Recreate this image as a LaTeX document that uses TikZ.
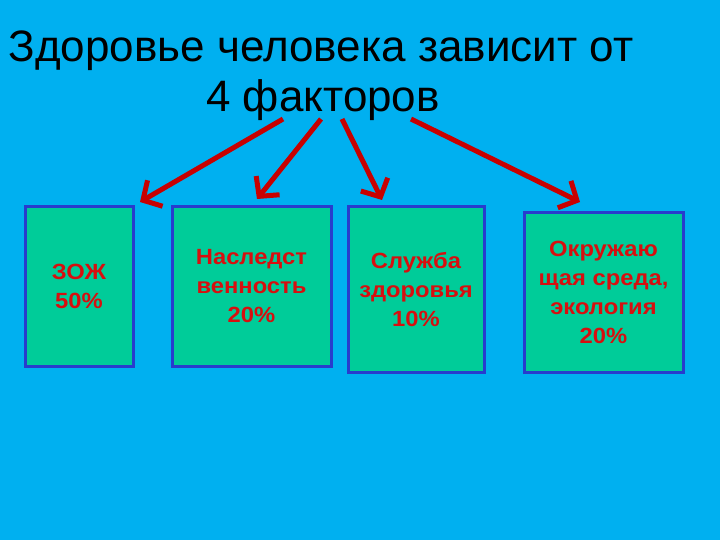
\documentclass[tikz,border=0pt]{standalone}
\usepackage{fontspec}
\setmainfont{Liberation Sans}
\newfontfamily\boxfont[FakeStretch=1.08]{Liberation Sans}
\usetikzlibrary{arrows.meta}
\definecolor{bgblue}{RGB}{0,176,240}
\definecolor{boxfill}{RGB}{0,204,153}
\definecolor{boxedge}{RGB}{40,60,205}
\definecolor{txtred}{RGB}{215,15,15}
\definecolor{arrred}{RGB}{200,0,0}
\tikzset{
  factor/.style={draw=boxedge, line width=3pt, fill=boxfill, inner sep=0pt,
    text=txtred, align=center, font=\boxfont\fontsize{22}{29}\selectfont\bfseries},
  titletext/.style={inner sep=0pt, anchor=base, text=black, font=\fontsize{44}{50}\selectfont},
  arrowline/.style={draw=arrred, line width=5pt, -{Straight Barb[length=14pt,width=30pt]}}
}
\begin{document}
\begin{tikzpicture}[x=1pt,y=-1pt]
\fill[bgblue] (0,0) rectangle (720,540);
\useasboundingbox (0,0) rectangle (720,540);
\node[titletext] (title1) at (321,62) {Здоровье человека зависит от};
\node[titletext] (title2) at (323,112) {4 факторов};
\node[factor, minimum width=108pt, minimum height=159pt] (b1) at (79,286.5) {ЗОЖ\\50\%};
\node[factor, minimum width=159pt, minimum height=159pt] (b2) at (251.5,286.5) {Наследст\\венность\\20\%};
\node[factor, minimum width=136pt, minimum height=165pt] (b3) at (416,289.5) {Служба\\здоровья\\10\%};
\node[factor, minimum width=159pt, minimum height=159pt] (b4) at (603.5,292.5) {Окружаю\\щая среда,\\экология\\20\%};
\coordinate (s1) at (283,119);
\coordinate (s2) at (321,119);
\coordinate (s3) at (342,119);
\coordinate (s4) at (411,119);
\coordinate (e1) at (140,202);
\coordinate (e2) at (257,199);
\coordinate (e3) at (382,200);
\coordinate (e4) at (580,202);
\draw[arrowline] (s1) -- (e1);
\draw[arrowline] (s2) -- (e2);
\draw[arrowline] (s3) -- (e3);
\draw[arrowline] (s4) -- (e4);
\end{tikzpicture}
\end{document}
